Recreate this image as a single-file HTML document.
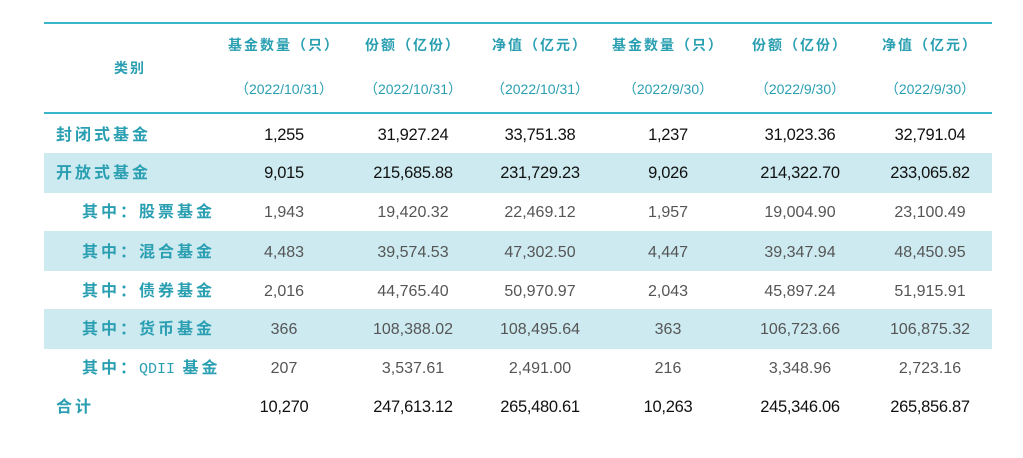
<!DOCTYPE html>
<html><head><meta charset="utf-8"><style>
body{margin:0;width:1023px;height:458px;background:#fff;position:relative;overflow:hidden;font-family:"Liberation Sans","Noto Sans CJK SC",sans-serif;}
.l{position:absolute;left:44px;width:948px;height:2px;background:#3ab6cb;}
.b{position:absolute;left:44px;width:948px;height:40px;background:#cdeaf0;}
.t{position:absolute;transform:translate(-50%,-50%);white-space:nowrap;line-height:20px;height:20px;}
.h{color:#2a9fb2;font-size:14px;font-weight:bold;letter-spacing:2px;}
.d{color:#2a9fb2;font-size:14px;}
.c{position:absolute;transform:translateY(-50%);color:#2a9fb2;font-size:16px;font-weight:bold;letter-spacing:3px;white-space:nowrap;line-height:20px;height:20px;margin-top:2px;}
.n{font-size:16.5px;color:#111;letter-spacing:-0.3px;margin-top:1px;}
.g{font-size:16px;color:#555;margin-top:2px;}
</style></head><body>
<div class="l" style="top:22px"></div>
<div class="l" style="top:112px"></div>
<div class="b" style="top:153px"></div>
<div class="b" style="top:231px"></div>
<div class="b" style="top:309px"></div>
<div class="t h" style="left:130px;top:68px">类别</div>
<div class="t h" style="left:284px;top:45px">基金数量（只）</div>
<div class="t h" style="left:413px;top:45px">份额（亿份）</div>
<div class="t h" style="left:540px;top:45px">净值（亿元）</div>
<div class="t h" style="left:668px;top:45px">基金数量（只）</div>
<div class="t h" style="left:800px;top:45px">份额（亿份）</div>
<div class="t h" style="left:930px;top:45px">净值（亿元）</div>
<div class="t d" style="left:284px;top:89px">（2022/10/31）</div>
<div class="t d" style="left:413px;top:89px">（2022/10/31）</div>
<div class="t d" style="left:540px;top:89px">（2022/10/31）</div>
<div class="t d" style="left:668px;top:89px">（2022/9/30）</div>
<div class="t d" style="left:800px;top:89px">（2022/9/30）</div>
<div class="t d" style="left:930px;top:89px">（2022/9/30）</div>

<div class="c" style="left:56px;top:134px">封闭式基金</div>
<div class="c" style="left:56px;top:172px">开放式基金</div>
<div class="c" style="left:82px;top:211px">其中：股票基金</div>
<div class="c" style="left:82px;top:251px">其中：混合基金</div>
<div class="c" style="left:82px;top:290px">其中：债券基金</div>
<div class="c" style="left:82px;top:328px">其中：货币基金</div>
<div class="c" style="left:82px;top:367px">其中：<span style="letter-spacing:0;font-weight:normal;font-family:'Liberation Mono',monospace;font-size:15px">QDII</span> 基金</div>
<div class="c" style="left:56px;top:406px">合计</div>

<div class="t n" style="left:284px;top:134px">1,255</div><div class="t n" style="left:413px;top:134px">31,927.24</div><div class="t n" style="left:540px;top:134px">33,751.38</div><div class="t n" style="left:668px;top:134px">1,237</div><div class="t n" style="left:800px;top:134px">31,023.36</div><div class="t n" style="left:930px;top:134px">32,791.04</div>
<div class="t n" style="left:284px;top:172px">9,015</div><div class="t n" style="left:413px;top:172px">215,685.88</div><div class="t n" style="left:540px;top:172px">231,729.23</div><div class="t n" style="left:668px;top:172px">9,026</div><div class="t n" style="left:800px;top:172px">214,322.70</div><div class="t n" style="left:930px;top:172px">233,065.82</div>
<div class="t g" style="left:284px;top:211px">1,943</div><div class="t g" style="left:413px;top:211px">19,420.32</div><div class="t g" style="left:540px;top:211px">22,469.12</div><div class="t g" style="left:668px;top:211px">1,957</div><div class="t g" style="left:800px;top:211px">19,004.90</div><div class="t g" style="left:930px;top:211px">23,100.49</div>
<div class="t g" style="left:284px;top:251px">4,483</div><div class="t g" style="left:413px;top:251px">39,574.53</div><div class="t g" style="left:540px;top:251px">47,302.50</div><div class="t g" style="left:668px;top:251px">4,447</div><div class="t g" style="left:800px;top:251px">39,347.94</div><div class="t g" style="left:930px;top:251px">48,450.95</div>
<div class="t g" style="left:284px;top:290px">2,016</div><div class="t g" style="left:413px;top:290px">44,765.40</div><div class="t g" style="left:540px;top:290px">50,970.97</div><div class="t g" style="left:668px;top:290px">2,043</div><div class="t g" style="left:800px;top:290px">45,897.24</div><div class="t g" style="left:930px;top:290px">51,915.91</div>
<div class="t g" style="left:284px;top:328px">366</div><div class="t g" style="left:413px;top:328px">108,388.02</div><div class="t g" style="left:540px;top:328px">108,495.64</div><div class="t g" style="left:668px;top:328px">363</div><div class="t g" style="left:800px;top:328px">106,723.66</div><div class="t g" style="left:930px;top:328px">106,875.32</div>
<div class="t g" style="left:284px;top:367px">207</div><div class="t g" style="left:413px;top:367px">3,537.61</div><div class="t g" style="left:540px;top:367px">2,491.00</div><div class="t g" style="left:668px;top:367px">216</div><div class="t g" style="left:800px;top:367px">3,348.96</div><div class="t g" style="left:930px;top:367px">2,723.16</div>
<div class="t n" style="left:284px;top:406px">10,270</div><div class="t n" style="left:413px;top:406px">247,613.12</div><div class="t n" style="left:540px;top:406px">265,480.61</div><div class="t n" style="left:668px;top:406px">10,263</div><div class="t n" style="left:800px;top:406px">245,346.06</div><div class="t n" style="left:930px;top:406px">265,856.87</div>
</body></html>
